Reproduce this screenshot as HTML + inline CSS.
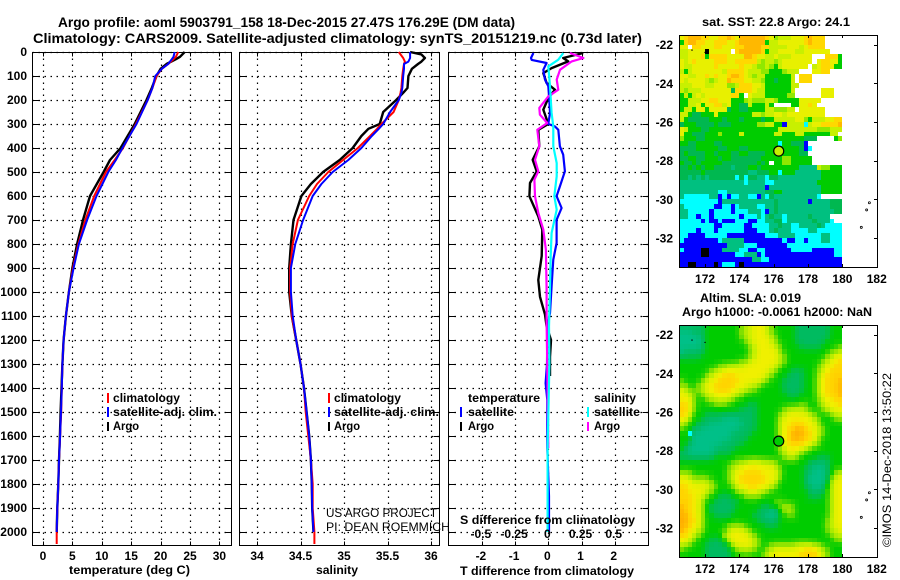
<!DOCTYPE html>
<html lang="en">
<head>
<meta charset="utf-8">
<title>Argo profile 5903791_158</title>
<style>
html,body{margin:0;padding:0;background:#fff;}
svg{display:block;}
text{font-family:"Liberation Sans",sans-serif;font-weight:bold;font-size:12px;fill:#000;}
text.thin{font-weight:normal;}
</style>
</head>
<body>
<svg id="chart" xmlns="http://www.w3.org/2000/svg" width="900" height="580" viewBox="0 0 900 580">
<rect x="0" y="0" width="900" height="580" fill="#fff"/>
<g id="layer-panels"></g>
<g id="layer-maps"></g>

<text x="58" y="27" style="font-size:14px" textLength="457" lengthAdjust="spacingAndGlyphs">Argo profile: aoml 5903791_158 18-Dec-2015 27.47S 176.29E (DM data)</text>
<text x="33" y="43" style="font-size:14px" textLength="609" lengthAdjust="spacingAndGlyphs">Climatology: CARS2009. Satellite-adjusted climatology: synTS_20151219.nc (0.73d later)</text>

<text x="69" y="574" textLength="121" lengthAdjust="spacingAndGlyphs">temperature (deg C)</text>
<text x="316" y="574" textLength="42" lengthAdjust="spacingAndGlyphs">salinity</text>
<text x="460" y="575" textLength="174" lengthAdjust="spacingAndGlyphs">T difference from climatology</text>
<text x="460" y="524" textLength="175" lengthAdjust="spacingAndGlyphs">S difference from climatology</text>

<g>
<rect x="107" y="393" width="2" height="10" fill="#f00"/>
<text x="113" y="402" textLength="67" lengthAdjust="spacingAndGlyphs">climatology</text>
<rect x="107" y="407" width="2" height="10" fill="#00f"/>
<text x="113" y="416" textLength="104" lengthAdjust="spacingAndGlyphs">satellite-adj. clim.</text>
<rect x="107" y="422" width="2" height="9" fill="#000"/>
<text x="113" y="430" textLength="26" lengthAdjust="spacingAndGlyphs">Argo</text>
</g>
<g>
<rect x="328" y="393" width="2" height="10" fill="#f00"/>
<text x="334" y="402" textLength="67" lengthAdjust="spacingAndGlyphs">climatology</text>
<rect x="328" y="407" width="2" height="10" fill="#00f"/>
<text x="334" y="416" textLength="105" lengthAdjust="spacingAndGlyphs">satellite-adj. clim.</text>
<rect x="328" y="422" width="2" height="9" fill="#000"/>
<text x="334" y="430" textLength="26" lengthAdjust="spacingAndGlyphs">Argo</text>
</g>
<g>
<text x="468" y="402" textLength="72" lengthAdjust="spacingAndGlyphs">temperature</text>
<rect x="460" y="407" width="2" height="10" fill="#00f"/>
<text x="468" y="416" textLength="46" lengthAdjust="spacingAndGlyphs">satellite</text>
<rect x="460" y="422" width="2" height="9" fill="#000"/>
<text x="468" y="430" textLength="26" lengthAdjust="spacingAndGlyphs">Argo</text>
<text x="594" y="402" textLength="42" lengthAdjust="spacingAndGlyphs">salinity</text>
<rect x="587" y="407" width="2" height="10" fill="#0ff"/>
<text x="594" y="416" textLength="46" lengthAdjust="spacingAndGlyphs">satellite</text>
<rect x="587" y="422" width="2" height="9" fill="#000" style="fill:#f0f"/>
<text x="594" y="430" textLength="26" lengthAdjust="spacingAndGlyphs">Argo</text>
</g>

<text class="thin" x="326" y="517" textLength="111" lengthAdjust="spacingAndGlyphs">US ARGO PROJECT</text>
<text class="thin" x="326" y="531" textLength="124" lengthAdjust="spacingAndGlyphs">PI: DEAN ROEMMICH</text>

<text x="702" y="26" textLength="148" lengthAdjust="spacingAndGlyphs">sat. SST: 22.8 Argo: 24.1</text>
<text x="700" y="302" textLength="101" lengthAdjust="spacingAndGlyphs">Altim. SLA: 0.019</text>
<text x="682" y="316" textLength="190" lengthAdjust="spacingAndGlyphs">Argo h1000: -0.0061 h2000: NaN</text>
<text class="thin" transform="translate(891,547) rotate(-90)" x="0" y="0" textLength="174" lengthAdjust="spacingAndGlyphs">©IMOS 14-Dec-2018 13:50:22</text>
</svg>

<script>
// ---- axis tick data ----
const depthTicks = [0,100,200,300,400,500,600,700,800,900,1000,1100,1200,1300,1400,1500,1600,1700,1800,1900,2000];
const tempTicks = [0,5,10,15,20,25,30];
const salTicks = [34,34.5,35,35.5,36];
const salTickLabels = ['34','34.5','35','35.5','36'];
const tDiffTicks = [-2,-1,0,1,2];
const sDiffTicks = [-0.5,-0.25,0,0.25,0.5];
const sDiffLabels = ['-0.5','-0.25','0','0.25','0.5'];
const lonTicks = [172,174,176,178,180,182];
const latTicks = [22,24,26,28,30,32];

// ---- temperature profiles ----
const tempDepths = [0,20,30,50,70,100,150,200,300,400,450,500,600,700,800,900,1000,1100,1200,1300,1400,1500,1600,1700,1800,1900,2000,2050];
const tempArgo = [24.1,23.3,22.6,21,20,19.3,18.5,17.6,15.6,13.2,11.4,10.3,8,6.8,5.8,5,4.4,3.9,3.5,3.3,3.15,3,2.87,2.72,2.6,2.43,2.33];
const tempClim = [23,22.6,22.2,21.3,20.2,19.3,18.6,17.8,15.8,13.6,12.2,10.7,8.7,7.2,6,5.1,4.4,3.9,3.5,3.3,3.2,3.1,2.9,2.72,2.6,2.43,2.33,2.33];
const tempSat = [22.4,22.2,21.9,21.3,20.2,19.1,18.6,17.8,15.9,13.5,12.4,11.1,9.1,7.5,6.1,5.2,4.4,3.9,3.5,3.3,3.2,3.06,2.9,2.72,2.6,2.43,2.33];

// ---- salinity profiles ----
const salDepths = [0,10,25,40,50,70,100,150,170,200,250,300,320,350,400,450,500,550,600,700,800,900,1000,1100,1200,1300,1400,1500,1600,1700,1800,1900,2000,2050];
const salArgo = [35.76,35.89,35.93,35.89,35.85,35.78,35.74,35.73,35.68,35.6,35.45,35.41,35.28,35.2,35.1,34.95,34.76,34.62,34.51,34.42,34.39,34.37,34.37,34.40,34.45,34.50,34.54,34.57,34.60,34.62,34.63,34.635,34.65];
const salClim = [35.63,35.65,35.68,35.70,35.69,35.68,35.67,35.66,35.65,35.63,35.57,35.43,35.38,35.30,35.16,34.99,34.82,34.69,34.60,34.47,34.41,34.38,34.38,34.40,34.45,34.50,34.54,34.56,34.59,34.62,34.64,34.64,34.66,34.66];
const salSat = [35.76,35.76,35.76,35.74,35.69,35.69,35.68,35.67,35.66,35.63,35.53,35.45,35.40,35.32,35.20,35.05,34.87,34.74,34.64,34.53,34.44,34.39,34.39,34.41,34.45,34.50,34.54,34.57,34.60,34.62,34.63,34.635,34.65];

// ---- difference profiles ----
const dtArgoDepths = [4,25,39,67,88,129,157,192,240,300,324,393,449,497,546,601,685,740,850,950,1020,1094,1143,1200,1270,1350];
const dtArgo = [1.05,0.45,0.6,0.1,-0.15,-0.05,0.2,0,-0.15,0,-0.3,-0.27,-0.47,-0.35,-0.55,-0.57,-0.3,-0.18,-0.2,-0.3,-0.25,-0.1,-0.05,0.08,0.05,0.05];
const dtSatDepths = [4,25,33,46,74,115,143,199,254,300,310,324,393,428,497,560,601,650,699,796,865,976,1088,1143,1300,1380,1450,1650,1850,2000];
const dtSat = [-0.45,-0.52,-0.5,-0.05,-0.15,-0.1,0,0.03,0.05,0,0.2,0.3,0.35,0.45,0.5,0.35,0.25,0.4,0.25,0.25,0.15,0.1,0.05,-0.03,-0.04,-0.08,-0.03,-0.03,0.02,0.02];
const dsArgoDepths = [4,25,39,74,115,157,185,233,261,296,324,393,449,497,532,601,671,740,824,990,1129,1400,1650];
const dsArgo = [0.163,0.264,0.176,0.088,0.063,0.075,0,-0.068,-0.063,-0.008,-0.083,-0.068,-0.1,-0.075,-0.105,-0.1,-0.075,-0.038,-0.018,-0.013,-0.013,-0.005,0];
const dsSatDepths = [4,32,60,143,254,310,393,463,518,601,657,754,850,976,1143,1300,1650,2000];
const dsSat = [0.113,0.075,0,0.013,0.025,0.038,0.038,0.063,0.063,0.045,0.063,0.025,0.018,0.013,0.005,0.008,-0.005,-0.005];

// ---- map cells: one digit per 0.25 deg cell, 0 (low) to 9 (high); . no data; k flagged cell; c single cyan cell ----
const sstRows = [
"7899988778898799999987566677789888....",
"4899887788877899999946677777789888....",
"77.8877788777889999886666777678888....",
"667777k77777.8999998466777766777777...",
"6677784888877779987766766677777...8884",
"7678777788877888886566567777777.788774",
"766777778777778776556546777777.6788744",
"64677777776888876665544456 66...7788...".replace(' ',''),
"776677878778998765664444446.888.......",
"767777656779888776654434446.888.......",
"666777667775568887764444446 6..........".replace(' ',''),
"656667777777388887664444446......777..",
"464676777777884.76664444455......777..",
"446667788777444565556654444477777.....",
"44667477886744336444 64....447787.....".replace(' ',''),
"466477477773443344446655566.777777....",
"6643344474444444466566776777777777....",
"64333334443444344443446666677546667788",
"34443333433344444455664406666167788889",
"76444334444444444444444666666666555666",
"74433344454444644444446644466444444 66".replace(' ',''),
"54443344444444444444444444444333....45",
"44334444334444444444444144333 0.......".replace(' ',''),
"3333444443344433444444444444301.......",
"343333443444334433334445444433........",
"3344334443443333333444445544444.......",
"4334344444333333334 34.445544444.......".replace(' ',''),
"33434344333323334434444444442222655444",
"33333433333333332233344144422222244444",
"33232323333331313322133222222222244444",
"22222222222222212222112222222222444444",
"22222222222222222222022222222222244444",
"22222222211222222222334422222222244444",
"211111122010112211021322222222221.....",
"11111111102222222222223222222202222333",
"21111111001101222211223222222222222333",
"22111110111101112221023222222222222233",
"2211011011111101112123221222223222 2...".replace(' ',''),
"11111010010001110011223312222223222 1..".replace(' ',''),
"11111111001111100111122322112222321111",
"11110111011111100011123222111122111111",
"11000011111000000000111222211111122111",
"10000000012222200000000010011011122111",
"00000000000222211100000001111111111111",
"10000kk00022221100110000001111100000 11".replace(' ',''),
"00000kk0000001122201000000000000000011",
"00000000000000000221100000000000000000",
"00kk0000k01110k00000000000000000000000"
];
const slaRows = [
"33333344444444566777654444433333333444",
"22233344444444566777654444433333333444",
"22222344444444566777765444433333333444",
"22222344444444456777765444433333334444",
"22222344444444445677776544443333344445",
"23333344444444445677777544444444444556",
"33333444444444445677777654444444445677",
"44444444444444556777777654444444456778",
"44444444455666677777776544444444567788",
"44444445667777777777765444333444567888",
"44444456778887777777654443333444678888",
"54444567788888777776544433333444678889",
"55445677888887776654444433333444678889",
"76555677888877665544444433333444678889",
"77654566777766544444444443334444678889",
"77754456666654444444444444444444567788",
"88754444555444443344444444445544567778",
"88754444444444333344444456666544456777",
"88644433333333333344444567777765444566",
"77544333332222333344444677777776544455",
"65443332222222233344444677888777544444",
"54433222222222333344444678899877654444",
"44c22222222233333444444678999887654444",
"44422222222233334444444678999887544444",
"44322222223333344444444678888776544444",
"43222222333334444444444567777654444444",
"33222222333344444444444567765444444444",
"33333333444444444444444456654444333444",
"44444444444455667776665444444433333444",
"44444444444566777777776544444332223444",
"55544444444567788887777544444332223456",
"77655554444567888888777544444322223567",
"77766665444567888888776444444322223677",
"88777776544456778877765444444332234677",
"88777765444445667766544444444433334677",
"88877654433344455554444444444433344677",
"88877544333333444444445544444444444677",
"98877543333334444443344566544444444677",
"98877543333334444433322456544444444677",
"99877544333344444333222445544444444677",
"99887544444444444433333444444444445677",
"99877544444555544444333444444444445677",
"98776544444677765444444444444444445667",
"88765444446777776544444444444444444566",
"77654443334677777654444444444444444455",
"66544433333467777654455555566665544444",
"54444433333345666544567777777888765444",
"44444433333344444445677777778888765444"
];
const argoLon = [176.29];
const argoLat = [27.47];
const islandLon = [181.57,181.41,181.1];
const islandLat = [30.18,30.55,31.45];
const speckLon = [171.24,172.0];
const speckLat = [22.28,22.4];

// ---- scales ----
const NS = 'http://www.w3.org/2000/svg';
function yD(d){return 52 + d*0.24;}
function xT(v){return 43 + v*5.88;}
function xS(v){return 257 + (v-34)*87;}
function xD(v){return 548.3 + v*33.2;}
function xDS(v){return xD(v*4);}
function mapX(lon){return 679.3 + (lon-170.5)*17.17;}
function mapY(lat,top){return top + (lat-21.5)*19.33;}
const palette = {'0':'#0000ff','1':'#00ffff','2':'#00c080','3':'#00b850','4':'#00cc00','5':'#90e800','6':'#c8f000','7':'#e8f000','8':'#ffd800','9':'#ffb800','c':'#00ffff','k':'#000000'};
const stops = [[0,0,255],[0,255,255],[0,192,136],[0,187,96],[0,204,0],[128,224,0],[196,240,0],[240,240,0],[255,212,0],[255,176,0]];

function node(parent,tag,attrs,txt){
  const el = document.createElementNS(NS,tag);
  for(const k in attrs){el.setAttribute(k,attrs[k]);}
  if(txt!==undefined){el.textContent = txt;}
  parent.appendChild(el);
  return el;
}
function label(parent,x,y,anchor,txt,name){
  const el = node(parent,'text',{x:x,y:y,'text-anchor':anchor},txt);
  
  
  return el;
}
function smoothColor(rows,r,c){
  let sum = 0, n = 0;
  for(let i=-1;i<=1;i++){
    for(let j=-1;j<=1;j++){
      const row = rows[r+i];
      if(!row){continue;}
      const v = parseInt(row.charAt(c+j),10);
      if(!isNaN(v)){
        const w = (i===0 && j===0) ? 4 : 1;
        sum += v*w;
        n += w;
      }
    }
  }
  const m = Math.max(2,Math.min(9,sum/n));
  const lo = Math.floor(m), hi = Math.min(9,lo+1), f = m-lo;
  const a = stops[lo], b = stops[hi];
  return 'rgb('+Math.round(a[0]+(b[0]-a[0])*f)+','+Math.round(a[1]+(b[1]-a[1])*f)+','+Math.round(a[2]+(b[2]-a[2])*f)+')';
}

const panelsLayer = document.getElementById('layer-panels');
const mapsLayer = document.getElementById('layer-maps');

function drawFrame(left,right,top,bottom,xTicks,xFn,showDepthLabels){
  const g = node(panelsLayer,'g',{});
  
  
  depthTicks.forEach(function(d){
    const y = Math.round(yD(d))+0.5;
    const gl = node(g,'line',{x1:left,x2:right,y1:y,y2:y,stroke:'#000','stroke-width':1.2,'stroke-dasharray':'1.5 4.5'});
    
    
    const t1 = node(g,'line',{x1:left,x2:left+6,y1:y,y2:y,stroke:'#000','stroke-width':1});
    
    
    const t2 = node(g,'line',{x1:right-6,x2:right,y1:y,y2:y,stroke:'#000','stroke-width':1});
    
    
    if(showDepthLabels){
      label(g,27,yD(d)+4,'end',String(d),'depth-tick-label');
    }
  });
  xTicks.forEach(function(v){
    const x = Math.round(xFn(v))+0.5;
    const gl = node(g,'line',{x1:x,x2:x,y1:top,y2:bottom,stroke:'#000','stroke-width':1.2,'stroke-dasharray':'1.5 4.5'});
    
    
    const t1 = node(g,'line',{x1:x,x2:x,y1:top,y2:top+4,stroke:'#000','stroke-width':1});
    
    
    const t2 = node(g,'line',{x1:x,x2:x,y1:bottom-4,y2:bottom,stroke:'#000','stroke-width':1});
    
    
  });
  const r = node(g,'rect',{x:left,y:top,width:right-left,height:bottom-top,fill:'none',stroke:'#000','stroke-width':1});
  
  
  return g;
}
function drawLine(g,depths,values,xFn,color,name,width){
  const n = Math.min(depths.length,values.length);
  const pts = [];
  for(let i=0;i<n;i++){pts.push(xFn(values[i]).toFixed(1)+','+yD(depths[i]).toFixed(1));}
  const el = node(g,'polyline',{points:pts.join(' '),fill:'none',stroke:color,'stroke-width':width||2,'stroke-linejoin':'round'});
  
  
}

// temperature panel
const tempPanel = drawFrame(32.5,231.5,52.5,545.5,tempTicks,xT,true);
drawLine(tempPanel,tempDepths,tempArgo,xT,'#000','temperature-argo-line',2.4);
drawLine(tempPanel,tempDepths,tempClim,xT,'#f00','temperature-climatology-line');
drawLine(tempPanel,tempDepths,tempSat,xT,'#00f','temperature-satellite-line');
tempTicks.forEach(function(v){label(tempPanel,xT(v),560,'middle',String(v),'temperature-tick-label');});

// salinity panel
const salPanel = drawFrame(239.5,439.5,52.5,545.5,salTicks,xS,false);
drawLine(salPanel,salDepths,salArgo,xS,'#000','salinity-argo-line',2.4);
drawLine(salPanel,salDepths,salClim,xS,'#f00','salinity-climatology-line');
drawLine(salPanel,salDepths,salSat,xS,'#00f','salinity-satellite-line');
salTicks.forEach(function(v,i){label(salPanel,xS(v),560,'middle',salTickLabels[i],'salinity-tick-label');});

// difference panel
const diffPanel = drawFrame(448.5,648.5,52.5,545.5,tDiffTicks,xD,false);
drawLine(diffPanel,dtArgoDepths,dtArgo,xD,'#000','t-diff-argo-line',2.4);
drawLine(diffPanel,dtSatDepths,dtSat,xD,'#00f','t-diff-satellite-line',2.2);
drawLine(diffPanel,dsArgoDepths,dsArgo,xDS,'#f0f','s-diff-argo-line',2.2);
drawLine(diffPanel,dsSatDepths,dsSat,xDS,'#0ff','s-diff-satellite-line',2.2);
tDiffTicks.forEach(function(v){label(diffPanel,xD(v)-1,560,'middle',String(v),'t-diff-tick-label');});
sDiffTicks.forEach(function(v,i){label(diffPanel,xDS(v)-1,538,'middle',sDiffLabels[i],'s-diff-tick-label');});

// maps
function drawMap(rows,top,circleFill,mapName,smooth){
  const g = node(mapsLayer,'g',{});
  
  
  const bottom = top+232;
  rows.forEach(function(row,r){
    const latA = 21.5 + r*0.25;
    for(let c=0;c<38;c++){
      const code = row.charAt(c);
      if(!palette[code]){continue;}
      const lonA = 170.5 + c*0.25;
      const x0 = Math.round(mapX(lonA)), x1 = Math.round(mapX(lonA+0.25));
      const y0 = Math.round(mapY(latA,top)), y1 = Math.round(mapY(latA+0.25,top));
      const fill = (smooth && code!=='c') ? smoothColor(rows,r,c) : palette[code];
      const cell = node(g,'rect',{x:x0,y:y0,width:x1-x0,height:y1-y0,fill:fill,'shape-rendering':'crispEdges'});
      
      
    }
  });
  const frame = node(g,'rect',{x:679.5,y:top+0.5,width:198,height:232,fill:'none',stroke:'#000','stroke-width':1});
  
  
  lonTicks.forEach(function(lon){
    const x = Math.round(mapX(lon))+0.5;
    const t1 = node(g,'line',{x1:x,x2:x,y1:top,y2:top+3,stroke:'#000','stroke-width':1});
    
    
    const t2 = node(g,'line',{x1:x,x2:x,y1:bottom-3,y2:bottom,stroke:'#000','stroke-width':1});
    
    
    label(g,mapX(lon),bottom+16,'middle',String(lon),'longitude-tick-label');
  });
  latTicks.forEach(function(lat){
    const y = Math.round(mapY(lat,top))+0.5;
    const t = node(g,'line',{x1:874,x2:877.5,y1:y,y2:y,stroke:'#000','stroke-width':1});
    
    
    label(g,673,mapY(lat,top)+4.5,'end','-'+lat,'latitude-tick-label');
  });
  islandLon.forEach(function(lon,i){
    const dot = node(g,'circle',{cx:mapX(lon),cy:mapY(islandLat[i],top),r:1,fill:'none',stroke:'#000','stroke-width':0.8});
    
    
  });
  speckLon.forEach(function(lon,i){
    const dot = node(g,'circle',{cx:mapX(lon),cy:mapY(speckLat[i],top),r:0.7,fill:'#000'});
    
    
  });
  const mark = node(g,'circle',{cx:mapX(argoLon[0]),cy:mapY(argoLat[0],top)+0.7,r:5,fill:circleFill,stroke:'#000','stroke-width':1.2});
  
  
}
drawMap(sstRows,35,'#c4f000','sst-map',false);
drawMap(slaRows,325,'#00cc00','sla-map',true);
</script>
</body>
</html>
